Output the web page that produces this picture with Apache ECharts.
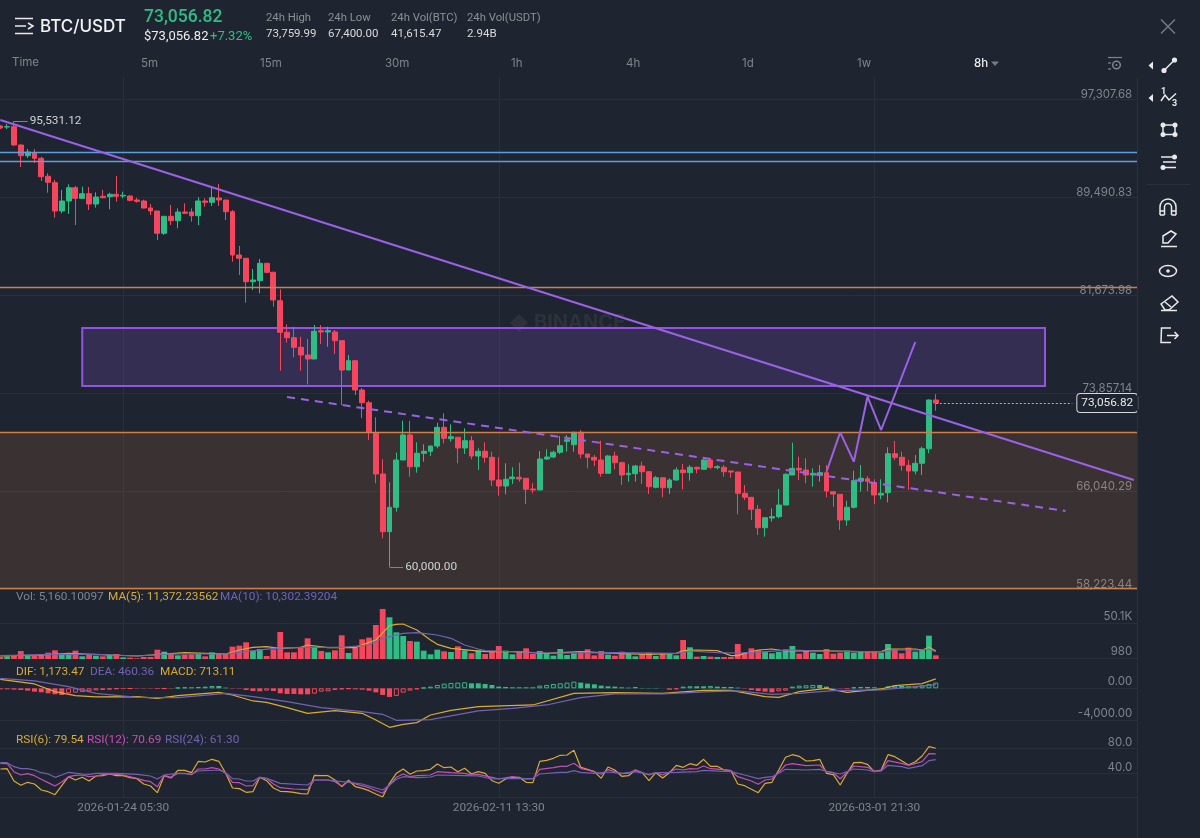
<!DOCTYPE html>
<html><head><meta charset="utf-8">
<style>html,body{margin:0;padding:0;background:#1f2530}#c{width:1200px;height:838px}</style>
<script src="https://cdn.jsdelivr.net/npm/echarts@6/dist/echarts.min.js"></script>
</head><body><div id="c"></div>
<script>
const slotCount = 167;
const opens = [
95154,95074,95099,93639,92785,93025,92578,91143,90632,88375,
89173,90233,89388,89755,88933,89547,89515,89707,89571,89571,
89252,89173,88614,88375,86596,87952,87601,88295,88295,88000,
89173,89069,89411,89252,88319,84865,84602,82736,82815,84203,
83485,81221,78700,78269,77503,76889,76570,78828,78724,78724,
78030,75693,76435,74098,73085,70644,67398,62796,64742,68514,
70508,67980,69049,69209,69631,71123,70214,70325,69472,70054,
68833,69209,68729,66919,66441,67023,67135,67056,66201,66122,
68594,68754,69129,70006,69735,70724,68993,68729,68514,67454,
68833,68300,67342,67422,68036,67581,66337,67103,66305,66919,
67717,67501,67932,67773,68514,67901,67932,67638,67558,65858,
65539,64582,63115,63888,63993,64925,67318,67852,67717,67318,
67294,67501,65986,65778,63729,64742,66840,67023,66705,65723,
65906,69017,68729,68092,67638,68251,69416,73300];
const closes = [
94995,95099,93639,92785,93080,92578,91110,90664,88375,89173,
90233,89388,89755,88933,89491,89435,89707,89547,89627,89228,
89148,88614,88375,86596,87952,87601,88295,88191,88000,89173,
89069,89435,89252,88319,84865,84602,82736,82871,84203,83485,
81276,78700,78269,77503,76889,76570,78780,78724,78828,78030,
75693,76435,74098,73085,70724,67398,62796,64742,68514,70508,
67980,69049,69209,69631,71123,70245,70373,69472,70054,68833,
69209,68729,66919,66441,66975,67159,67000,66178,66122,68594,
68754,69129,69655,70134,70724,68993,68729,68514,67454,68833,
68300,67318,67454,68036,67581,66385,67103,66305,66919,67717,
67501,67932,67797,68514,67932,67980,67581,67558,65858,65539,
64582,63115,63913,63993,64925,67375,67852,67717,67318,67454,
67501,66042,65802,63729,64742,66864,67056,66816,65723,65858,
69017,68729,68092,67638,68251,69416,73300,73056.82];
const highs = [
95234,95314,95531,93679,93320,93320,92706,91382,90847,90050,
90504,90369,90313,90289,89866,90050,89834,91166,89914,89627,
89435,89276,88933,88375,87952,88853,88590,88989,88590,89467,
89388,90369,90528,89252,88454,85583,84602,83749,84546,84203,
83533,82130,79338,79147,78349,78166,79282,79282,79147,78883,
78030,76889,76435,74257,73245,71920,68571,66736,69097,71649,
71649,69926,69767,69631,71490,72240,71362,70325,71043,70429,
69448,69926,69177,68729,68251,67932,68300,67056,66657,69233,
69368,69257,70429,70508,70772,70907,68993,68913,70054,68913,
69177,68380,68172,68115,68380,67581,67238,67103,67056,67932,
68195,68115,67980,68571,68651,68115,68115,67638,67558,66520,
65539,64925,63913,64662,66202,67454,69895,68778,68651,67852,
68115,68115,65986,65778,65268,67661,68115,67238,66975,66975,
69527,70030,69177,68514,68913,69576,73356,73760];
const lows = [
94915,94915,93599,91884,92602,92204,90768,89834,87840,88191,
88135,87258,89372,88454,88638,89388,88510,89116,89388,89148,
89037,88590,88056,86062,86460,87258,86995,88135,87522,87258,
88718,88774,88774,87657,84331,83270,81061,82074,81810,83406,
80742,75637,77870,76706,75637,74553,76570,77766,77552,76969,
72901,75693,73699,71865,70110,66657,62269,60000,64390,68514,
67183,67501,68380,68833,69448,69846,69974,68251,68993,68571,
67717,68300,66441,65667,65779,66600,66784,65005,65859,66122,
68514,68651,68993,69177,69177,68651,67852,68036,67183,67454,
67773,66520,66784,66784,66600,65803,66258,65539,65803,66864,
66178,66864,67454,67773,67773,67773,67183,67103,64184,65324,
63729,62532,62398,63594,63865,64925,67318,66919,66657,66385,
66784,65539,64790,62931,63276,64662,65986,66042,65005,65380,
65141,68514,67661,66122,67375,67318,69049,72448];
const volumes = [
2808,3744,4212,11232,4680,4680,7020,8892,12168,6552,
7020,11700,3744,6552,4680,3744,5616,7020,2340,1872,
936,2808,2808,13104,10296,7488,5148,6084,6552,7956,
3744,9360,7020,7020,17316,18720,23400,11700,14040,4212,
13572,37908,9360,9360,16380,29016,17316,11232,9360,12168,
33228,8424,15912,27612,29952,47736,70200,58500,37440,32292,
25272,24336,11700,6552,13104,10764,9828,17784,12168,7956,
12168,7020,10296,18252,11700,6552,11232,14976,7020,11232,
8424,4680,14040,5616,7956,8892,13572,5148,11232,6084,
4680,10296,7020,3744,7020,8892,4212,8424,7020,5148,
26676,16380,3276,4212,3276,2808,2808,2808,21060,8424,
14976,12636,10296,7956,9828,13572,18252,7488,12168,8892,
7020,14040,7488,8892,11700,8892,10296,10296,11232,8892,
21060,13572,7956,15912,10296,12636,32760,5160];
const volMa5 = [[0,4212],[6,5616],[10,7956],[16,5616],[20,4212],[25,7488],[27,8892],[33,7020],[35,12636],[37,16380],[39,17316],[41,14976],[44,16380],[45,19656],[48,15912],[52,15912],[54,23400],[55,26676],[57,46800],[58,48672],[59,49140],[61,40716],[63,26676],[64,20592],[66,14976],[69,12168],[71,10296],[75,10296],[80,7956],[85,10296],[90,7956],[95,6552],[99,7956],[100,11700],[102,12636],[105,11700],[107,4680],[108,4680],[109,7956],[111,12636],[113,14040],[115,11232],[118,11700],[122,11232],[126,10296],[129,10296],[130,14040],[134,14040],[135,12636],[136,15912],[137,11372]];
const volMa10 = [[0,4680],[8,6552],[14,6552],[20,4212],[25,7020],[33,7020],[36,10296],[40,14976],[44,16380],[50,16380],[54,19656],[56,29016],[59,36036],[61,36972],[64,33696],[66,29016],[68,19656],[70,14040],[71,11700],[80,8424],[90,8892],[99,7956],[101,11232],[105,8892],[108,8424],[112,10296],[116,12636],[120,11232],[125,10296],[129,10296],[131,12636],[135,12636],[136,14040],[137,10302]];
const difLine = [[0,1125],[5,542],[8,-417],[11,-917],[14,-1083],[20,-1042],[23,-1250],[26,-917],[32,-500],[34,-833],[37,-1583],[39,-1750],[42,-2417],[45,-3125],[49,-2792],[53,-3125],[55,-3958],[57,-4875],[59,-4500],[61,-4292],[63,-3333],[66,-2750],[70,-2292],[78,-2083],[84,-625],[90,-542],[97,-625],[103,-250],[107,-250],[112,-1042],[114,-1125],[117,-417],[121,0],[124,-500],[129,-83],[131,333],[135,583],[137,1173]];
const deaLine = [[0,1250],[5,917],[10,208],[14,-625],[20,-1125],[26,-1167],[33,-625],[37,-1042],[42,-1667],[47,-2417],[53,-2917],[56,-3250],[58,-4000],[63,-3917],[68,-3125],[70,-2833],[75,-2500],[80,-2083],[85,-1167],[90,-708],[97,-708],[104,-417],[108,-333],[113,-750],[117,-625],[122,-292],[129,-208],[134,208],[137,460]];
const macdBars = [
-125,-125,-167,-208,-292,-417,-500,-625,-750,-833,
-625,-542,-458,-375,-250,-208,-167,-83,-83,-42,
-42,-42,-42,-83,-42,-42,83,125,125,167,
208,292,292,83,-42,-42,-208,-333,-375,-292,
-333,-625,-708,-708,-750,-750,-667,-417,-375,-208,
-125,-83,-125,-167,-292,-500,-833,-1083,-958,-542,
-292,-125,83,208,417,583,667,708,750,625,
625,542,417,208,167,125,125,125,125,333,
417,542,625,708,833,708,583,500,333,250,
208,125,83,167,42,42,42,0,-167,-125,
208,250,250,250,292,208,167,167,83,-42,
-208,-333,-417,-500,-375,-292,208,333,375,417,
417,208,42,-42,-83,125,167,167,125,42,
250,333,292,250,292,375,542,713];
const rsi6 = [46.4,46.9,27.2,20.3,25.1,22.4,12.8,10.1,5.3,19.7,34.1,28.8,33.1,27.2,35.2,35.7,38.4,35.7,35.7,32.5,30.9,22.4,19.2,8.5,35.7,32,44.3,44.3,40.5,58.7,57.6,61.9,58.7,39.5,16,15,9.1,10.1,33.1,27.7,16,10.7,10.1,9.1,6.9,6.4,36.3,35.7,35.7,28.8,18.1,28.3,18.1,15.5,11.7,6.4,1.6,23.5,39.5,46.4,37.9,43.2,43.7,45.9,54.4,48.5,49.6,42.1,47.5,38.4,42.1,39.5,27.7,23.5,30.4,33.1,33.1,25.1,24.5,58.7,60.3,63.5,68.3,68.8,76.3,49.1,45.9,42.1,31.5,49.6,44.8,34.7,35.7,44.8,40.5,27.7,40.5,32,40.5,52.3,49.1,54.9,52.3,61.9,50.7,50.7,44.8,43.7,22.4,19.7,13.9,8.5,23.5,25.1,44.8,65.1,69.3,66.7,59.2,59.7,61.9,39.5,37.3,20.8,39.5,56.5,57.1,53.9,42.1,44.8,69.3,66.1,59.7,52.8,58.1,67.2,82.1,79.54];
const rsi12 = [[0,55.5],[1,54.9],[2,42.1],[3,36.8],[4,38.9],[5,35.7],[6,29.9],[7,24.6],[8,19.2],[9,25.6],[10,34.1],[11,36.3],[12,36.8],[13,34.1],[14,35.2],[15,37.3],[16,38.4],[17,37.9],[18,36.8],[20,31.5],[21,28.3],[22,26.1],[23,18.1],[24,36.3],[25,33.1],[26,39.5],[27,39.5],[28,37.3],[29,46.4],[30,46.4],[31,48.5],[32,46.4],[33,39.5],[34,25.1],[35,24.5],[36,19.2],[37,19.7],[38,33.1],[39,31],[40,22.4],[41,16.5],[43,14.4],[45,13.3],[46,28.8],[48,28.8],[49,26.1],[50,19.2],[51,26.7],[52,22.4],[54,16.5],[56,7.5],[57,20.8],[58,33.1],[59,38.4],[60,34.1],[61,35.7],[63,36.8],[64,42.1],[66,40.5],[68,39.5],[69,36.8],[70,37.9],[72,33.1],[73,30.4],[75,34.1],[77,30.4],[78,30.4],[79,45.9],[81,48.5],[82,50.7],[83,50.7],[84,55.5],[85,47.5],[87,42.1],[88,37.9],[89,45.3],[91,38.9],[92,39.5],[93,44.8],[95,36.8],[96,40.5],[97,36.8],[99,46.4],[100,44.8],[101,46.9],[102,46.4],[103,51.2],[104,46.9],[106,45.3],[107,43.7],[108,34.1],[110,27.2],[111,21.9],[112,28.8],[113,30.4],[114,41.1],[115,52.8],[116,54.9],[118,51.7],[120,52.8],[121,42.1],[122,40.5],[123,30.9],[124,41.1],[125,51.2],[127,49.1],[128,43.2],[129,43.7],[130,59.7],[132,55.5],[133,52.3],[135,58.1],[136,71],[137,70.69]];
const rsi24 = [[0,56.5],[1,56.5],[2,50.1],[3,46.9],[4,46.9],[5,44.8],[6,40.5],[7,38.4],[8,33.1],[9,36.8],[10,41.1],[12,38.4],[13,37.9],[14,39.5],[17,39.5],[20,37.9],[22,35.2],[23,30.4],[24,36.8],[26,39.5],[28,38.4],[29,43.2],[32,44.8],[33,40.5],[34,31],[35,30.4],[36,27.2],[37,27.2],[38,33.1],[39,31.5],[41,23.5],[45,20.8],[46,28.8],[48,28.8],[51,25.1],[53,22.4],[56,12.8],[57,20.8],[58,29.9],[59,34.1],[61,32.5],[63,33.6],[64,36.8],[68,35.7],[70,35.2],[72,30.4],[73,31],[77,31],[78,31.5],[79,38.4],[82,41.1],[83,41.1],[84,43.7],[85,41.1],[87,39.5],[89,41.6],[91,39.5],[93,42.1],[95,37.9],[96,40.5],[99,41.1],[102,42.1],[103,44.3],[106,42.7],[107,42.1],[109,36.8],[111,31],[112,33.1],[113,34.1],[114,39.5],[115,45.9],[118,44.8],[120,45.9],[121,42.7],[123,38.4],[124,42.1],[125,46.4],[127,44.8],[128,42.1],[129,43.2],[130,52.3],[132,50.1],[133,47.5],[135,51.7],[136,59.7],[137,61.3]];
const priceTicks = [97307.68,89490.83,81673.98,73857.14,66040.29,58223.44];
const volTicks = [50100,980];
const macdTicks = [0,-4000];
const rsiTicks = [80,40];
const dateTickIndex = [18,73,128];
const dateTickText = ['2026-01-24 05:30','2026-02-11 13:30','2026-03-01 21:30'];
const blueLevels = [93080,92363];
const orangeLevels = [82313,70748,58305];
const boxIndexRange = [12,153];
const boxPriceRange = [79043,74417];
const trendLine = [[0,95633],[166,66919]];
const dashedTrend = [[42,73540],[156,64447]];
const forecastPath = [[121,67580],[123,70724],[125,68380],[127,73563],[129,70907],[134,77926]];
const lastPrice = 73056.82, highMark = 95531.12, lowMark = 60000;

const GREEN='#2ebd85', RED='#f6465d', GOLD='#d9ab32', PURPLE='#7163b4', MAGENTA='#c64fb2', TRENDC='#9b62e6';
const AX='#7f858e', GRIDC='#2a303b', FONT='Inter, "Noto Sans", sans-serif', FONT2='Roboto, "Noto Sans", sans-serif';
const categories = Array.from({length:slotCount},(_,i)=>{const k=dateTickIndex.indexOf(i);return k>=0?dateTickText[k]:String(i);});
const isDateTick = i => dateTickIndex.includes(i);
const fmt2 = v => v.toLocaleString('en-US',{minimumFractionDigits:2,maximumFractionDigits:2});
const fmtVol = v => v>=10000 ? (v/1000).toFixed(1)+'K' : String(v);

const gridL=-3.1, gridW=1140.3;
const grids=[[78,512],[590,69],[660,68],[727,70]].map(([top,height])=>({left:gridL,width:gridW,top,height,outerBoundsMode:'none'}));
const xAxes=grids.map((g,i)=>({type:'category',gridIndex:i,data:categories,boundaryGap:true,
  axisLine:{show:i===3,lineStyle:{color:GRIDC}},axisTick:{show:false},axisPointer:{show:false},
  axisLabel:{show:i===3,interval:(k)=>isDateTick(k),color:AX,fontSize:11.8,fontFamily:FONT2,margin:5},
  splitLine:{show:true,interval:(k)=>isDateTick(k),alignWithLabel:true,lineStyle:{color:GRIDC,width:1}}}));
function yA(i,min,max,ticks,f,lh){return {type:'value',gridIndex:i,position:'right',min,max,scale:false,
  axisLine:{show:false},axisTick:{show:false,customValues:ticks},
  axisLabel:{show:true,inside:true,customValues:ticks,verticalAlign:'bottom',lineHeight:lh,align:'right',margin:5,color:AX,fontSize:11.5,fontFamily:FONT,formatter:f},
  splitLine:{show:true,customValues:ticks,lineStyle:{color:GRIDC,width:1}}};}
const yAxes=[yA(0,58146,98983,priceTicks,fmt2,9),yA(1,0,96807,volTicks,fmtVol,13),yA(2,-4962.5,3538,macdTicks,fmt2,13),yA(3,1.6,113.6,rsiTicks,v=>v.toFixed(1),10)];

const noSym={symbol:['none','none'],silent:true,animation:false};
const ln=(xi,yi,data,color,w)=>({type:'line',xAxisIndex:xi,yAxisIndex:yi,data,showSymbol:false,connectNulls:true,lineStyle:{color,width:w||1.2},itemStyle:{color},silent:true,z:4,animation:false});
const series=[
 {type:'line',xAxisIndex:0,yAxisIndex:0,data:[],silent:true,z:1,
  markArea:{silent:true,animation:false,itemStyle:{color:'rgba(226,128,66,0.14)'},data:[[{yAxis:orangeLevels[1]},{yAxis:orangeLevels[2]}]]},
  markLine:Object.assign({},noSym,{data:[
    ...blueLevels.map(v=>({yAxis:v,lineStyle:{color:'#5f9fd6',width:1.4,type:'solid'},label:{show:false}})),
    ...orangeLevels.map(v=>({yAxis:v,lineStyle:{color:'#c9814f',width:1.4,type:'solid'},label:{show:false}}))]})},
 {type:'candlestick',xAxisIndex:0,yAxisIndex:0,z:2,barWidth:5.4,animation:false,silent:true,
  itemStyle:{color:GREEN,color0:RED,borderColor:GREEN,borderColor0:RED,borderWidth:1},
  data:opens.map((o,i)=>[o,closes[i],lows[i],highs[i]])},
 {type:'line',xAxisIndex:0,yAxisIndex:0,data:[],silent:true,z:3,
  markArea:{silent:true,animation:false,itemStyle:{color:'rgba(140,85,225,0.2)',borderColor:'#9354e0',borderWidth:2},
    data:[[{coord:[boxIndexRange[0],boxPriceRange[0]]},{coord:[boxIndexRange[1],boxPriceRange[1]]}]]},
  markLine:Object.assign({},noSym,{data:[
    [{coord:trendLine[0],lineStyle:{color:TRENDC,width:2,type:'solid'},label:{show:false}},{coord:trendLine[1]}],
    [{coord:dashedTrend[0],lineStyle:{color:TRENDC,width:2,type:[8,6]},label:{show:false}},{coord:dashedTrend[1]}],
    [{coord:[2,highMark],lineStyle:{color:'#7f858e',width:1,type:'solid'},label:{show:true,position:'end',distance:2,formatter:fmt2(highMark),color:'#cfd3d8',fontSize:11.8,fontFamily:FONT2}},{coord:[4,highMark]}],
    [{coord:[57,lowMark],lineStyle:{color:'#7f858e',width:1,type:'solid'},label:{show:true,position:'end',distance:2,formatter:fmt2(lowMark),color:'#cfd3d8',fontSize:11.8,fontFamily:FONT2}},{coord:[59,lowMark]}],
    [{coord:[137,lastPrice],lineStyle:{color:'#aab0b8',width:1,type:[2,2]},label:{show:true,position:'end',distance:5,formatter:fmt2(lastPrice),color:'#e6e8ea',fontSize:11.8,fontFamily:FONT2,backgroundColor:'#1f2530',borderColor:'#d5d8dc',borderWidth:1,borderRadius:3,padding:[3,4]}},{coord:[157,lastPrice]}]
  ]})},
 Object.assign(ln(0,0,forecastPath,TRENDC,2),{z:5}),
 {type:'bar',xAxisIndex:1,yAxisIndex:1,barWidth:5.8,animation:false,silent:true,z:2,
  data:volumes.map((v,i)=>({value:v,itemStyle:{color:closes[i]>=opens[i]?GREEN:RED}}))},
 ln(1,1,volMa5,GOLD),ln(1,1,volMa10,PURPLE),
 {type:'bar',xAxisIndex:2,yAxisIndex:2,barWidth:5,animation:false,silent:true,z:2,
  data:macdBars.map((v,i)=>{const c=v>=0?GREEN:RED;const hollow=i>0&&v>macdBars[i-1];
    return {value:v,itemStyle:hollow?{color:'rgba(0,0,0,0)',borderColor:c,borderWidth:1}:{color:c}};})},
 ln(2,2,difLine,GOLD),ln(2,2,deaLine,PURPLE),
 ln(3,3,rsi6,GOLD),ln(3,3,rsi12,MAGENTA),ln(3,3,rsi24,PURPLE)
];

const T=(text,x,y,fill,size,weight,fam)=>({type:'text',x,y,z:20,silent:true,style:{text,fill,font:`${weight||400} ${size}px ${fam||FONT2}`,verticalAlign:'middle',align:'left'}});
const W='#e8eaed';
const L=(x1,y1,x2,y2,c,w)=>({type:'line',z:20,silent:true,shape:{x1,y1,x2,y2},style:{stroke:c||W,lineWidth:w||1.5}});
const C=(cx,cy,r,fill,stroke)=>({type:'circle',z:20,silent:true,shape:{cx,cy,r},style:{fill:fill||W,stroke:stroke||null,lineWidth:1.5}});
const P=(pts,fill)=>({type:'polygon',z:20,silent:true,shape:{points:pts},style:{fill:fill||null,stroke:fill?null:W,lineWidth:1.5}});
const PL=(pts,c)=>({type:'polyline',z:20,silent:true,shape:{points:pts},style:{fill:null,stroke:c||W,lineWidth:1.5}});
const ARC=(cx,cy,r)=>({type:'arc',z:20,silent:true,shape:{cx,cy,r,startAngle:Math.PI,endAngle:2*Math.PI,clockwise:true},style:{fill:null,stroke:W,lineWidth:1.5}});
const HDR='#8b9098', VAL='#d6d9dd';
const graphicEls=[
 L(15,18.5,33,18.5),L(15,26,26,26),L(15,33.5,33,33.5),PL([[28,23],[33,26],[28,29]]),
 T('BTC/USDT',40,26.5,'#f2f3f5',17,500,FONT),
 T('73,056.82',144,18,GREEN,17.5,500),
 T('$73,056.82',144,37,'#eceef0',13,400),T('+7.32%',210,37,GREEN,13,400),
 T('24h High',266,18,HDR,11.3,400),T('73,759.99',266,34,VAL,11.5,400),
 T('24h Low',328,18,HDR,11.3,400),T('67,400.00',328,34,VAL,11.5,400),
 T('24h Vol(BTC)',391,18,HDR,11.3,400),T('41,615.47',391,34,VAL,11.5,400),
 T('24h Vol(USDT)',467,18,HDR,11.3,400),T('2.94B',467,34,VAL,11.5,400),
 L(1161,19.5,1175,33.5,'#767c85'),L(1175,19.5,1161,33.5,'#767c85'),
 T('Time',12,63,AX,11.5,400,FONT),T('5m',141,64,AX,11.5,400,FONT),T('15m',260,64,AX,11.5,400,FONT),T('30m',385,64,AX,11.5,400,FONT),
 T('1h',511,64,AX,11.5,400,FONT),T('4h',626,64,AX,11.5,400,FONT),T('1d',742,64,AX,11.5,400,FONT),T('1w',857,64,AX,11.5,400,FONT),
 T('8h',974,64,'#eceef0',11.5,500,FONT),P([[991,61.5],[999,61.5],[995,66]],'#767c85'),
 L(1108,57.5,1122,57.5,AX,1.2),L(1108,63,1111,63,AX,1.2),L(1108,69,1111,69,AX,1.2),C(1116.5,65,3.8,'rgba(0,0,0,0)',AX),C(1116.5,65,1,AX),
 T('Vol: 5,160.10097',16,597,AX,11.8),T('MA(5): 11,372.23562',108,597,GOLD,11.8),T('MA(10): 10,302.39204',220,597,PURPLE,11.8),
 T('DIF: 1,173.47',16,672,GOLD,11.8),T('DEA: 460.36',90,672,PURPLE,11.8),T('MACD: 713.11',160,672,GOLD,11.8),
 T('RSI(6): 79.54',16,740,GOLD,11.8),T('RSI(12): 70.69',87,740,MAGENTA,11.8),T('RSI(24): 61.30',165,740,PURPLE,11.8),
 {type:'polygon',z:1,silent:true,shape:{points:[[519,314],[528,323],[519,332],[510,323]]},style:{fill:'rgba(255,255,255,0.06)'}},
 {type:'text',x:534,y:323,z:1,silent:true,style:{text:'BINANCE',fill:'rgba(255,255,255,0.06)',font:`700 20px ${FONT}`,verticalAlign:'middle'}},
 L(1137.5,78,1137.5,838,GRIDC,1),
 P([[1153,61.5],[1153,69.5],[1148.5,65.5]],W),L(1164,70.5,1174.5,60),C(1164,70.5,2.6),C(1174.5,60,2.6),
 P([[1153,94],[1153,102],[1148.5,98]],W),T('1',1161,92,W,9,700),T('3',1172,103.5,W,9,700),PL([[1161,101],[1165,95],[1169,100],[1176,93.5]]),
 L(1163,125,1175,125),L(1163,134.5,1175,134.5),L(1163,125,1163,134.5),L(1175,125,1175,134.5),C(1163,125,2.5),C(1175,125,2.5),C(1163,134.5,2.5),C(1175,134.5,2.5),
 L(1161,157,1172,157),C(1174.5,157,2.5),L(1163,162,1176,162),L(1165,167.5,1176,167.5),C(1163,167.5,2.5),
 L(1147,184.5,1190,184.5,GRIDC,1),
 ARC(1168,207,8),ARC(1168,207,3.5),L(1160,207,1160,215),L(1176,207,1176,215),L(1164.5,207,1164.5,215),L(1171.5,207,1171.5,215),L(1160,215,1164.5,215),L(1171.5,215,1176,215),L(1160,211,1164.5,211),L(1171.5,211,1176,211),
 P([[1163,236],[1171,231],[1176,234],[1168,243],[1163,243]]),L(1161,246.5,1177,246.5),
 {type:'ellipse',z:20,silent:true,shape:{cx:1168,cy:271,rx:8.5,ry:5.5},style:{fill:null,stroke:W,lineWidth:1.5}},C(1168,271,1.8),
 P([[1161,304],[1172,296],[1178,302],[1169,310],[1165,310]]),L(1165,302,1171,307),L(1161,310.5,1177,310.5),
 PL([[1171,328],[1161.5,328],[1161,342.5],[1171,342.5]]),L(1167,335.5,1178,335.5),PL([[1174.5,332],[1178,335.5],[1174.5,339]])
];

const chart=echarts.init(document.getElementById('c'),null,{renderer:'canvas'});
chart.setOption({backgroundColor:'#1f2530',animation:false,tooltip:{show:false},legend:{show:false},
  grid:grids,xAxis:xAxes,yAxis:yAxes,series,graphic:{elements:graphicEls}});
</script></body></html>
